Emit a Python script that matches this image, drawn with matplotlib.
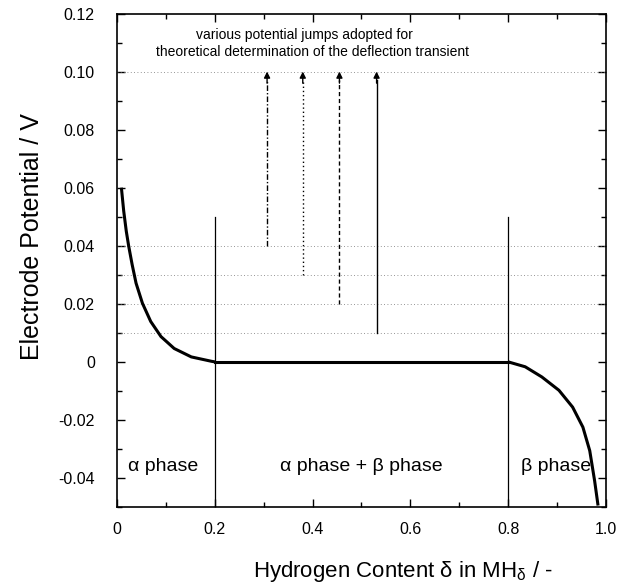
import matplotlib
matplotlib.use("Agg")
import matplotlib.pyplot as plt
from matplotlib.ticker import MultipleLocator, FixedLocator, FixedFormatter

plt.rcParams['font.family'] = ['Liberation Sans', 'DejaVu Sans']
plt.rcParams['mathtext.fontset'] = 'custom'
plt.rcParams['mathtext.rm'] = 'Liberation Sans'
plt.rcParams['mathtext.it'] = 'Liberation Sans'

# isotherm
alpha_x = [0.009, 0.0137, 0.019, 0.024, 0.031, 0.039, 0.052, 0.069, 0.090,
           0.117, 0.152, 0.193, 0.2]
alpha_y = [0.060, 0.052, 0.045, 0.0398, 0.0335, 0.0271, 0.0202, 0.0139, 0.0087,
           0.0046, 0.0017, 0.0002, 0.0]
plateau_x = [0.2, 0.8]
plateau_y = [0.0, 0.0]
beta_x = [0.8, 0.835, 0.869, 0.904, 0.932, 0.953, 0.967, 0.977, 0.984]
beta_y = [0.0, -0.0017, -0.0052, -0.0098, -0.0156, -0.0225, -0.0306, -0.041, -0.0495]

# potential jumps: x position and starting potential (all end at 0.10 V)
jump_x = [0.307, 0.38, 0.455, 0.531]
jump_from = [0.04, 0.03, 0.02, 0.01]
jump_styles = [(0, (4, 1.5, 1, 1.5)), (0, (1, 2)), (0, (3, 2)), '-']
jump_to = 0.10

grid_levels = [0.01, 0.02, 0.03, 0.04, 0.10]
phase_bounds = [0.2, 0.8]

xticks = [0, 0.2, 0.4, 0.6, 0.8, 1.0]
xticklabels = ['0', '0.2', '0.4', '0.6', '0.8', '1.0']
yticks = [-0.04, -0.02, 0, 0.02, 0.04, 0.06, 0.08, 0.10, 0.12]
yticklabels = ['-0.04', '-0.02', '0', '0.02', '0.04', '0.06', '0.08', '0.10', '0.12']

fig = plt.figure(figsize=(6.3, 5.87), dpi=100)
ax = fig.add_axes([0.1857, 0.1363, 0.776, 0.8407])

# faint dotted reference levels
for lv in grid_levels:
    ax.plot([0, 1], [lv, lv], color='0.45', lw=0.6, ls=(0, (1, 3)))

# phase boundaries
for b in phase_bounds:
    ax.plot([b, b], [-0.05, 0.05], color='k', lw=0.9)

# isotherm
ax.plot(alpha_x, alpha_y, color='k', lw=2.2, solid_capstyle='butt')
ax.plot(plateau_x, plateau_y, color='k', lw=2.2)
ax.plot(beta_x, beta_y, color='k', lw=2.2, solid_capstyle='butt')

# jump arrows
for x, y0, st in zip(jump_x, jump_from, jump_styles):
    ax.plot([x, x], [y0, jump_to - 0.003], color='k', lw=1.0, ls=st)
    ax.annotate('', xy=(x, jump_to), xytext=(x, jump_to - 0.004),
                arrowprops=dict(arrowstyle='-|>', color='k', lw=1.0,
                                mutation_scale=9, shrinkA=0, shrinkB=0))

ax.text(0.383, 0.1125, 'various potential jumps adopted for',
        ha='center', va='center', fontsize=10)
ax.text(0.40, 0.1068, 'theoretical determination of the deflection transient',
        ha='center', va='center', fontsize=10)

ax.text(0.023, -0.036, 'α phase', ha='left', va='center', fontsize=14)
ax.text(0.5, -0.036, 'α phase + β phase', ha='center', va='center', fontsize=14)
ax.text(0.827, -0.036, 'β phase', ha='left', va='center', fontsize=14)

ax.set_xlim(0, 1.0)
ax.set_ylim(-0.05, 0.12)
ax.xaxis.set_major_locator(FixedLocator(xticks))
ax.xaxis.set_major_formatter(FixedFormatter(xticklabels))
ax.xaxis.set_minor_locator(MultipleLocator(0.1))
ax.yaxis.set_major_locator(FixedLocator(yticks))
ax.yaxis.set_major_formatter(FixedFormatter(yticklabels))
ax.yaxis.set_minor_locator(MultipleLocator(0.01))
ax.tick_params(which='both', direction='in', top=True, right=True, labelsize=11.5)
ax.tick_params(which='major', length=6, width=1)
ax.tick_params(which='minor', length=3.5, width=1)
ax.tick_params(axis='x', pad=11)
ax.tick_params(axis='y', pad=16)
for s in ax.spines.values():
    s.set_linewidth(1.2)

ax.set_xlabel(r'Hydrogen Content δ in MH$_\delta$ / -', fontsize=16)
ax.set_ylabel('Electrode Potential / V', fontsize=18)
ax.xaxis.set_label_coords(0.585, -0.105)
ax.yaxis.set_label_coords(-0.149, 0.547)

fig.savefig('out.png', dpi=100)
